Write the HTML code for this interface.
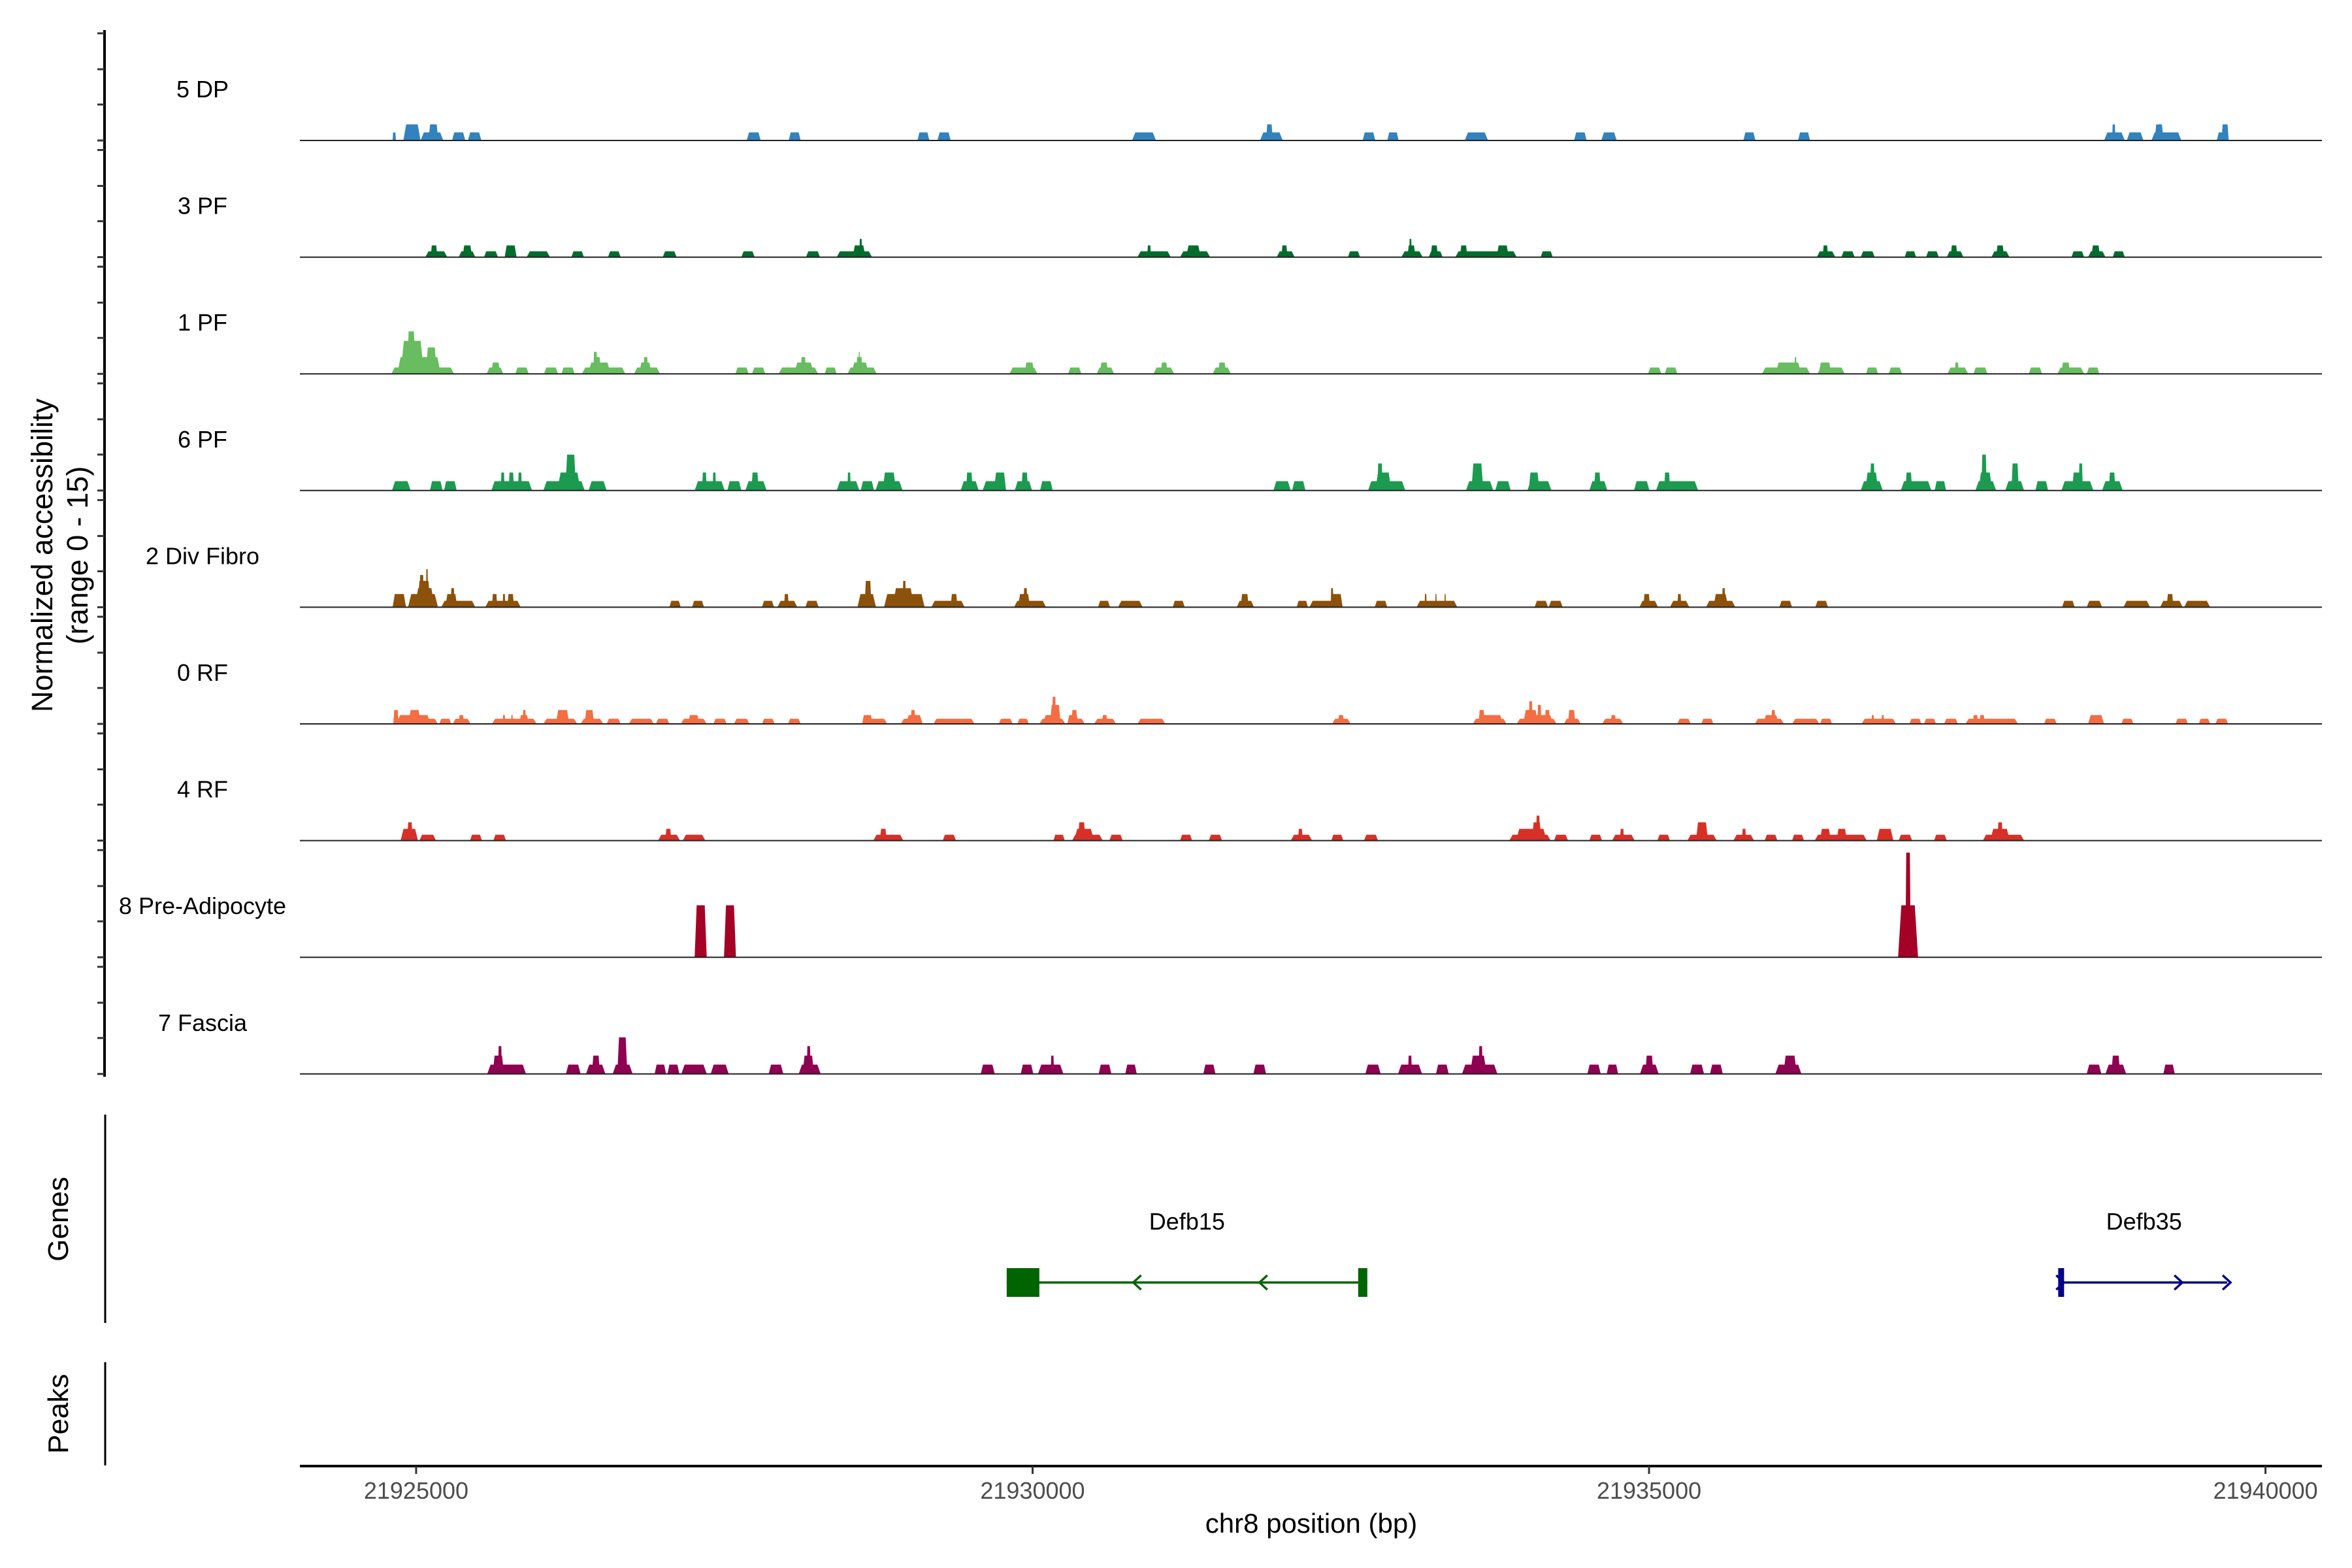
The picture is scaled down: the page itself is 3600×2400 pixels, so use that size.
<!DOCTYPE html>
<html><head><meta charset="utf-8"><title>Coverage plot chr8</title>
<style>html,body{margin:0;padding:0;background:#fff}svg{display:block}text{font-family:"Liberation Sans",sans-serif}</style>
</head><body>
<svg id="chart" xmlns="http://www.w3.org/2000/svg" width="3600" height="2400" viewBox="0 0 3600 2400">
<rect width="3600" height="2400" fill="#fff"/>
<g id="tracks"></g>
<g id="yaxis"></g>
<text transform="translate(80,850) rotate(-90)" text-anchor="middle" font-size="45" fill="#000">Normalized accessibility</text>
<text transform="translate(134,850) rotate(-90)" text-anchor="middle" font-size="45" fill="#000">(range 0 - 15)</text>
<line x1="161" y1="1706" x2="161" y2="2025" stroke="#000" stroke-width="3"/>
<text transform="translate(104,1866) rotate(-90)" text-anchor="middle" font-size="44" fill="#000">Genes</text>
<line x1="161" y1="2085" x2="161" y2="2243" stroke="#000" stroke-width="3"/>
<text transform="translate(104,2164) rotate(-90)" text-anchor="middle" font-size="44" fill="#000">Peaks</text>
<g id="genes"></g>
<g id="xaxis"></g>
<text x="2007" y="2346" text-anchor="middle" font-size="42" fill="#000">chr8 position (bp)</text>
</svg>
<script>
const trackNames = ["5 DP","3 PF","1 PF","6 PF","2 Div Fibro","0 RF","4 RF","8 Pre-Adipocyte","7 Fascia"];
const trackColors = ["#3182bd","#006d2c","#67bd5f","#1c9a50","#8c510a","#f46d43","#d73027","#a50026","#8e0152"];
const xTicks = [21925000,21930000,21935000,21940000];
const xDomain = [21924057,21940458];
const yMax = 15;
// peaks per track: [start bp, end bp, value]
const peaksDP = [[21924809,21924836,1.1],[21924896,21925036,2.2],[21925036,21925221,1.1],[21925100,21925180,2.2],[21925291,21925399,1.1],[21925420,21925529,1.1],[21927681,21927795,1.1],[21928022,21928119,1.1],[21929066,21929163,1.1],[21929228,21929336,1.1],[21930807,21931001,1.1],[21931845,21932029,1.1],[21931894,21931948,2.2],[21932677,21932780,1.1],[21932877,21932969,1.1],[21933505,21933694,1.1],[21934392,21934494,1.1],[21934613,21934738,1.1],[21935765,21935863,1.1],[21936209,21936306,1.1],[21938691,21938859,1.1],[21938756,21938783,2.2],[21938875,21939010,1.1],[21939075,21939318,1.1],[21939102,21939172,2.2],[21939605,21939702,1.1],[21939643,21939702,2.2]];
const peaks3PF = [[21925074,21925253,0.8],[21925118,21925172,1.6],[21925345,21925480,0.8],[21925377,21925453,1.6],[21925550,21925664,0.8],[21925718,21925815,1.6],[21925896,21926086,0.8],[21926259,21926361,0.8],[21926556,21926659,0.8],[21927000,21927113,0.8],[21927638,21927746,0.8],[21928162,21928276,0.8],[21928411,21928698,0.8],[21928541,21928644,1.6],[21928595,21928617,2.5],[21930850,21931121,0.8],[21930930,21930960,1.6],[21931196,21931440,0.8],[21931245,21931364,1.6],[21931980,21932126,0.8],[21932018,21932067,1.6],[21932558,21932656,0.8],[21932991,21933164,0.8],[21933040,21933105,1.6],[21933055,21933075,2.5],[21933213,21933326,0.8],[21933229,21933288,1.6],[21933429,21933927,0.8],[21933467,21933526,1.6],[21933764,21933862,1.6],[21934121,21934219,0.8],[21936360,21936511,0.8],[21936409,21936452,1.6],[21936560,21936668,0.8],[21936717,21936831,0.8],[21937074,21937166,0.8],[21937247,21937350,0.8],[21937415,21937550,0.8],[21937447,21937501,1.6],[21937777,21937923,0.8],[21937815,21937880,1.6],[21938426,21938529,0.8],[21938561,21938702,0.8],[21938588,21938658,1.6],[21938761,21938859,0.8]];
const peaks1PF = [[21924799,21925307,0.87],[21924847,21925199,2.3],[21924874,21925063,4.5],[21924928,21924993,5.8],[21925080,21925166,3.6],[21925572,21925707,0.87],[21925610,21925680,1.55],[21925804,21925913,0.87],[21926037,21926151,0.87],[21926178,21926286,0.87],[21926345,21926697,0.87],[21926394,21926578,1.55],[21926443,21926497,2.3],[21926437,21926470,3],[21926767,21926978,0.87],[21926810,21926908,1.55],[21926843,21926881,2.3],[21927589,21927697,0.87],[21927724,21927832,0.87],[21927941,21928260,0.87],[21928065,21928227,1.55],[21928119,21928162,2.3],[21928314,21928411,0.87],[21928498,21928736,0.87],[21928530,21928671,1.55],[21928568,21928622,2.3],[21928589,21928600,3],[21929812,21930039,0.87],[21929936,21930012,1.55],[21930288,21930396,0.87],[21930520,21930661,0.87],[21930547,21930612,1.55],[21930980,21931148,0.87],[21931040,21931094,1.55],[21931461,21931607,0.87],[21931505,21931569,1.55],[21934992,21935100,0.87],[21935127,21935230,0.87],[21935917,21936306,0.87],[21936025,21936236,1.55],[21936180,21936196,2.3],[21936366,21936587,0.87],[21936376,21936479,1.55],[21936760,21936858,0.87],[21936944,21937052,0.87],[21937420,21937588,0.87],[21937480,21937512,1.55],[21937631,21937745,0.87],[21938080,21938188,0.87],[21938312,21938529,0.87],[21938345,21938415,1.55],[21938550,21938653,0.87]];
const peaks6PF = [[21924804,21924955,1.28],[21925112,21925215,1.28],[21925226,21925329,1.28],[21925610,21925940,1.28],[21925686,21925718,2.46],[21925750,21925794,2.46],[21925826,21925858,2.46],[21926032,21926367,1.28],[21926145,21926334,2.46],[21926210,21926297,4.9],[21926399,21926545,1.28],[21927259,21927503,1.28],[21927319,21927357,2.46],[21927405,21927432,2.46],[21927524,21927638,1.28],[21927670,21927843,1.28],[21927719,21927778,2.46],[21928411,21928595,1.28],[21928498,21928525,2.46],[21928606,21928714,1.28],[21928725,21928946,1.28],[21928784,21928892,2.46],[21929417,21929563,1.28],[21929460,21929514,2.46],[21929595,21929785,1.28],[21929687,21929785,2.46],[21929855,21929996,1.28],[21929909,21929963,2.46],[21930061,21930163,1.28],[21931953,21932094,1.28],[21932105,21932213,1.28],[21932721,21933023,1.28],[21932780,21932910,2.46],[21932796,21932840,3.7],[21933515,21933737,1.28],[21933559,21933656,3.7],[21933753,21933878,1.28],[21934013,21934208,1.28],[21934024,21934110,2.46],[21934516,21934662,1.28],[21934554,21934608,2.46],[21934878,21935003,1.28],[21935057,21935398,1.28],[21935122,21935171,2.46],[21936717,21936896,1.28],[21936755,21936858,2.46],[21936793,21936831,3.7],[21937042,21937290,1.28],[21937080,21937134,2.46],[21937317,21937409,1.28],[21937647,21937815,1.28],[21937674,21937782,2.46],[21937696,21937739,4.9],[21937890,21938042,1.28],[21937939,21937999,3.7],[21938134,21938237,1.28],[21938345,21938604,1.28],[21938431,21938512,2.46],[21938485,21938518,3.7],[21938675,21938842,1.28],[21938729,21938783,2.46]];
const peaksDiv = [[21924809,21924918,1.8],[21924934,21925177,1.8],[21924990,21925150,2.6],[21925009,21925118,3.6],[21925026,21925063,4.4],[21925080,21925096,5.2],[21925204,21925480,0.87],[21925237,21925334,1.8],[21925280,21925312,2.6],[21925561,21925848,0.87],[21925615,21925658,1.8],[21925702,21925723,1.8],[21925740,21925794,1.8],[21927054,21927146,0.87],[21927238,21927335,0.87],[21927805,21927903,0.87],[21927930,21928092,0.87],[21927984,21928022,1.8],[21928157,21928265,0.87],[21928579,21928730,1.8],[21928638,21928693,3.6],[21928795,21929125,1.8],[21928865,21929038,2.6],[21928946,21928973,3.6],[21929179,21929449,0.87],[21929336,21929390,1.8],[21929850,21930109,0.87],[21929882,21929980,1.8],[21929926,21929958,2.6],[21930531,21930628,0.87],[21930693,21930893,0.87],[21931137,21931234,0.87],[21931656,21931796,0.87],[21931688,21931753,1.8],[21932142,21932234,0.87],[21932245,21932515,0.87],[21932418,21932515,1.8],[21932418,21932440,2.6],[21932775,21932877,0.87],[21933115,21933445,0.87],[21933180,21933196,1.8],[21933266,21933277,1.8],[21933341,21933352,1.8],[21934072,21934181,0.87],[21934186,21934300,0.87],[21934922,21935073,0.87],[21934954,21935008,1.8],[21935170,21935327,0.87],[21935230,21935262,1.8],[21935462,21935700,0.87],[21935522,21935641,1.8],[21935592,21935619,2.6],[21936057,21936160,0.87],[21936349,21936452,0.87],[21938350,21938453,0.87],[21938550,21938675,0.87],[21938848,21939064,0.87],[21939145,21939329,0.87],[21939199,21939253,1.8],[21939340,21939551,0.87]];
const peaks0RF = [[21924809,21925177,0.7],[21924815,21924858,1.9],[21924843,21925118,1.2],[21924939,21925036,1.9],[21925188,21925285,0.7],[21925296,21925442,0.7],[21925345,21925388,1.2],[21925615,21925978,0.7],[21925702,21925723,1.2],[21925770,21925785,1.2],[21925837,21925913,1.2],[21925864,21925891,1.9],[21926032,21926307,0.7],[21926134,21926242,1.9],[21926334,21926518,0.7],[21926367,21926443,1.9],[21926545,21926659,0.7],[21926724,21926929,0.7],[21926945,21927054,0.7],[21927146,21927357,0.7],[21927205,21927297,1.2],[21927411,21927519,0.7],[21927578,21927703,0.7],[21927805,21927908,0.7],[21928016,21928119,0.7],[21928617,21928822,0.7],[21928617,21928703,1.2],[21928930,21929108,0.7],[21928973,21929108,1.2],[21929011,21929049,1.9],[21929195,21929530,0.7],[21929725,21929839,0.7],[21929877,21929969,0.7],[21930055,21930266,0.7],[21930082,21930228,1.2],[21930141,21930228,2.6],[21930158,21930190,3.7],[21930277,21930423,0.7],[21930282,21930374,1.2],[21930315,21930363,1.9],[21930499,21930677,0.7],[21930563,21930607,1.2],[21930850,21931077,0.7],[21932429,21932580,0.7],[21932477,21932526,1.2],[21933570,21933845,0.7],[21933618,21933667,1.9],[21933618,21933818,1.2],[21933926,21934251,0.7],[21933975,21934224,1.2],[21933980,21934100,1.9],[21934024,21934056,3.1],[21934094,21934127,2.6],[21934154,21934197,1.9],[21934310,21934446,0.7],[21934343,21934402,1.9],[21934619,21934792,0.7],[21934689,21934732,1.2],[21935230,21935338,0.7],[21935424,21935522,0.7],[21935857,21936095,0.7],[21935927,21936052,1.2],[21935992,21936025,1.9],[21936160,21936382,0.7],[21936387,21936485,0.7],[21936723,21937004,0.7],[21936804,21936825,1.2],[21936885,21936906,1.2],[21937112,21937209,0.7],[21937231,21937328,0.7],[21937393,21937506,0.7],[21937566,21937993,0.7],[21937626,21937669,1.2],[21937680,21937723,1.2],[21938204,21938307,0.7],[21938561,21938691,1.2],[21938831,21938929,0.7],[21939270,21939372,0.7],[21939459,21939551,0.7],[21939594,21939697,0.7]];
const peaks4RF = [[21924874,21925015,1.6],[21924928,21924971,2.5],[21925026,21925161,0.8],[21925437,21925534,0.8],[21925626,21925729,0.8],[21926962,21927140,0.8],[21927021,21927070,1.6],[21927162,21927346,0.8],[21928708,21928952,0.8],[21928762,21928816,1.6],[21929271,21929379,0.8],[21930169,21930261,0.8],[21930320,21930569,0.8],[21930336,21930499,1.6],[21930369,21930428,2.5],[21930623,21930731,0.8],[21931196,21931294,0.8],[21931429,21931537,0.8],[21932094,21932267,0.8],[21932153,21932191,1.6],[21932423,21932520,0.8],[21932688,21932802,0.8],[21933867,21934202,0.8],[21933921,21934170,1.6],[21934051,21934127,2.5],[21934083,21934116,3.4],[21934229,21934343,0.8],[21934516,21934619,0.8],[21934700,21934884,0.8],[21934765,21934797,1.6],[21935068,21935170,0.8],[21935311,21935549,0.8],[21935381,21935478,2.5],[21935684,21935852,0.8],[21935754,21935787,1.6],[21935938,21936041,0.8],[21936160,21936257,0.8],[21936344,21936766,0.8],[21936387,21936474,1.6],[21936522,21936604,1.6],[21936847,21936982,1.6],[21937025,21937134,0.8],[21937312,21937415,0.8],[21937707,21938042,0.8],[21937766,21937928,1.6],[21937826,21937869,2.5]];
const peaksPreAd = [[21927259,21927357,7.1],[21927497,21927594,7.1],[21937020,21937182,7.1],[21937079,21937123,14.3]];
const peaksFascia = [[21925577,21925891,1.28],[21925621,21925712,2.5],[21925664,21925696,3.8],[21926215,21926334,1.28],[21926378,21926535,1.28],[21926426,21926491,2.5],[21926594,21926756,1.28],[21926632,21926713,5],[21926935,21927027,1.28],[21927038,21927135,1.28],[21927151,21927357,1.28],[21927389,21927535,1.28],[21927859,21927978,1.28],[21928103,21928281,1.28],[21928135,21928227,2.5],[21928168,21928200,3.8],[21929579,21929693,1.28],[21929904,21930006,1.28],[21930044,21930250,1.28],[21930147,21930174,2.5],[21930536,21930639,1.28],[21930752,21930845,1.28],[21931385,21931483,1.28],[21931791,21931894,1.28],[21932699,21932823,1.28],[21932964,21933159,1.28],[21933045,21933077,2.5],[21933272,21933375,1.28],[21933483,21933770,1.28],[21933548,21933683,2.5],[21933618,21933651,3.8],[21934500,21934608,1.28],[21934657,21934749,1.28],[21934927,21935078,1.28],[21934970,21935035,2.5],[21935333,21935446,1.28],[21935495,21935598,1.28],[21936025,21936236,1.28],[21936090,21936198,2.5],[21938550,21938669,1.28],[21938702,21938870,1.28],[21938750,21938821,2.5],[21939172,21939264,1.28]];
const trackPeaks = [peaksDP,peaks3PF,peaks1PF,peaks6PF,peaksDiv,peaks0RF,peaks4RF,peaksPreAd,peaksFascia];
const geneNames = ["Defb15","Defb35"];
const geneStarts = [21929790,21938340];
const geneEnds = [21932715,21939690];
const geneStrands = [-1,1];
const geneColors = ["#006400","#00008b"];

const NS = "http://www.w3.org/2000/svg";
const PX0 = 459, PX1 = 3554;
function xScale(bp){ return PX0 + (bp - xDomain[0]) / (xDomain[1] - xDomain[0]) * (PX1 - PX0); }
const TRACK_TOP = 215, TRACK_STEP = 178.6, TRACK_H = 168;
function baseY(i){ return TRACK_TOP + i * TRACK_STEP; }
function yScale(i, v){ return baseY(i) - v / yMax * TRACK_H; }
function mk(tag, attrs, parent){ const e = document.createElementNS(NS, tag); for (const k in attrs) e.setAttribute(k, attrs[k]); parent.appendChild(e); return e; }

const gTracks = document.getElementById("tracks");
trackPeaks.forEach((peaks, i) => {
  const g = mk("g", {}, gTracks);
  
  
  peaks.forEach(p => {
    const x0 = xScale(p[0]), x1 = xScale(p[1]);
    const yb = baseY(i), yt = yScale(i, p[2]);
    const w = x1 - x0;
    const s = Math.min(5, w / 6);
    const poly = mk("polygon", {points: `${x0},${yb} ${x0+s},${yt} ${x1-s},${yt} ${x1},${yb}`, fill: trackColors[i]}, g);
    
    
  });
  const bl = mk("line", {x1: PX0, x2: PX1, y1: baseY(i), y2: baseY(i), stroke: "#222", "stroke-width": 2}, g);
  
  
  const lab = mk("text", {x: 310, y: baseY(i) - 66, "text-anchor": "middle", "font-size": 36, fill: "#000"}, g);
  
  
  lab.textContent = trackNames[i];
});

const gY = document.getElementById("yaxis");
const yl = mk("line", {x1: 160, x2: 160, y1: 46, y2: 1648, stroke: "#000", "stroke-width": 4}, gY);


trackNames.forEach((n, i) => {
  [0, 55, 109, 164].forEach(d => {
    const t = mk("line", {x1: 149, x2: 160, y1: baseY(i) - d, y2: baseY(i) - d, stroke: "#333", "stroke-width": 3}, gY);
    
    
  });
});

const gX = document.getElementById("xaxis");
const xl = mk("line", {x1: PX0, x2: PX1, y1: 2244, y2: 2244, stroke: "#000", "stroke-width": 4}, gX);


xTicks.forEach(v => {
  const x = xScale(v);
  const t = mk("line", {x1: x, x2: x, y1: 2244, y2: 2256, stroke: "#333", "stroke-width": 3}, gX);
  
  
  const tl = mk("text", {x: x, y: 2294, "text-anchor": "middle", "font-size": 36, fill: "#4d4d4d"}, gX);
  
  
  tl.textContent = String(v);
});

const gG = document.getElementById("genes");
const GY = 1963;
geneNames.forEach((name, i) => {
  const g = mk("g", {}, gG);
  
  
  const xs = xScale(geneStarts[i]), xe = xScale(geneEnds[i]), c = geneColors[i];
  const ln = mk("line", {x1: xs, x2: xe, y1: GY, y2: GY, stroke: c, "stroke-width": 3.5}, g);
  
  
  const lab = mk("text", {x: (xs + xe) / 2, y: 1882, "text-anchor": "middle", "font-size": 36, fill: "#000"}, g);
  
  
  lab.textContent = name;
  let arrows;
  if (geneStrands[i] < 0) {
    const ex1 = mk("rect", {x: xs, y: GY - 22, width: 50, height: 44, fill: c}, g);
    
    
    const ex2 = mk("rect", {x: xe - 14, y: GY - 22, width: 14, height: 44, fill: c}, g);
    
    
    arrows = [xs + (xe - xs) * 0.36, xs + (xe - xs) * 0.71];
  } else {
    const ex = mk("rect", {x: xs - 4, y: GY - 22, width: 9, height: 44, fill: c}, g);
    
    
    arrows = [xs, xs + (xe - xs) * 0.71, xe];
  }
  arrows.forEach(ax => {
    const d = geneStrands[i] < 0 ? `M${ax+7},${GY-11} L${ax-5},${GY} L${ax+7},${GY+11}` : `M${ax-7},${GY-11} L${ax+5},${GY} L${ax-7},${GY+11}`;
    const a = mk("path", {d: d, fill: "none", stroke: c, "stroke-width": 3.5}, g);
    
    
  });
});
</script>
</body></html>
